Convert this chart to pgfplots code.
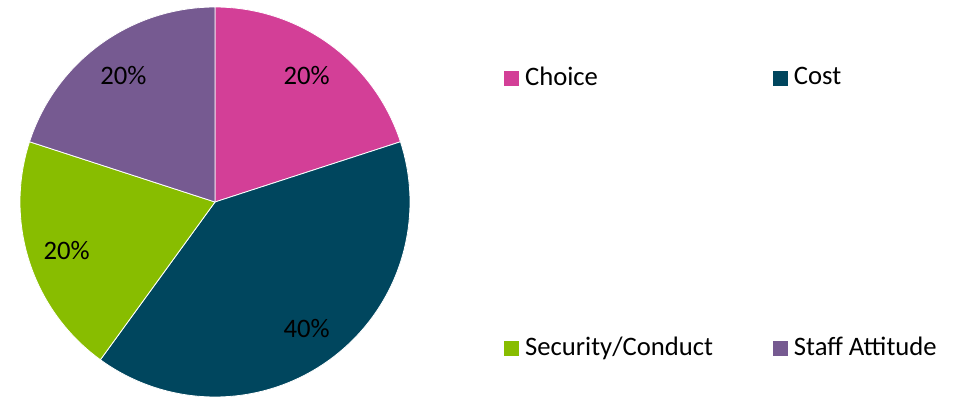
\documentclass[border=0pt]{standalone}
\usepackage{pgfplots}
\pgfplotsset{compat=1.18}
\usepackage{pgfplotstable}
\usepackage{fontspec}
\setmainfont{Carlito}

\definecolor{choice}{HTML}{D33F97}
\definecolor{cost}{HTML}{00465E}
\definecolor{secur}{HTML}{88BD00}
\definecolor{staff}{HTML}{765A91}

\pgfplotstableread[col sep=comma]{
label,value,color
Choice,20,choice
Cost,40,cost
Security/Conduct,20,secur
Staff Attitude,20,staff
}\piedata

\begin{document}
\fontsize{20pt}{24pt}\selectfont
\begin{tikzpicture}
\begin{axis}[
    x=0.75pt, y=0.75pt,
    xmin=0, xmax=954, ymin=0, ymax=401,
    hide axis, clip=false,
    legend columns=2,
    legend cell align=left,
    legend style={draw=none, fill=none, font=\fontsize{20pt}{24pt}\selectfont,
        at={(axis cs:504,337)}, anchor=north west,
        /tikz/every even column/.append style={column sep=43pt},
        row sep=182pt, inner sep=0pt},
    legend image code/.code={\fill[#1, draw=none] (0pt,-5.7pt) rectangle (11.4pt,5.7pt); \path (13.3pt,0pt);},
]
\path (rel axis cs:0,0) rectangle (rel axis cs:1,1);
\def\cum{0}
\pgfplotsforeachungrouped \i in {0,...,3}{
    \pgfplotstablegetelem{\i}{value}\of\piedata \let\v\pgfplotsretval
    \pgfplotstablegetelem{\i}{color}\of\piedata \let\c\pgfplotsretval
    \pgfplotstablegetelem{\i}{label}\of\piedata \let\l\pgfplotsretval
    \pgfmathsetmacro\a{90-3.6*\cum}
    \pgfmathsetmacro\b{90-3.6*(\cum+\v)}
    \pgfmathsetmacro\m{(\a+\b)/2}
    \edef\temp{%
        \noexpand\addplot[fill=\c, draw=white, line width=0.6pt, domain=\b:\a, samples=90, variable=\noexpand\t]
            ({215+195*cos(\noexpand\t)},{199+195*sin(\noexpand\t)}) -- (axis cs:215,199) -- cycle;
        \noexpand\addlegendentry{\l}
        \noexpand\node at (axis cs:{215+156*cos(\m)},{199+156*sin(\m)}) {\v\noexpand\%};
    }\temp
    \pgfmathsetmacro\cum{\cum+\v}
}
\end{axis}
\end{tikzpicture}
\end{document}
